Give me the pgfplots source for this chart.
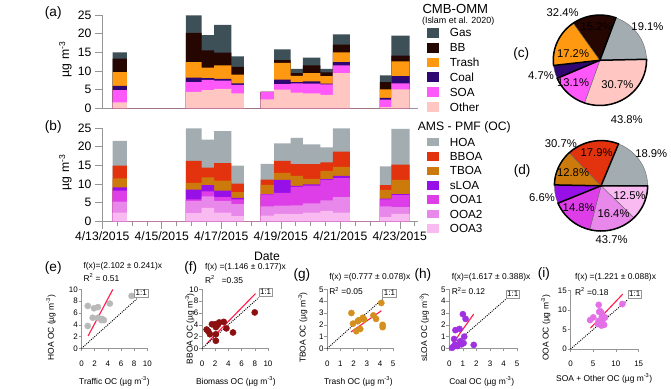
\documentclass[border=0pt]{standalone}
\usepackage{fontspec}
\setmainfont{Liberation Sans}
\usepackage{pgfplots}
\pgfplotsset{compat=1.18}
\usepackage{pgfplotstable}

\definecolor{cGas}{RGB}{61,79,87}
\definecolor{cBB}{RGB}{38,6,0}
\definecolor{cTrash}{RGB}{255,153,18}
\definecolor{cCoal}{RGB}{46,8,112}
\definecolor{cSOA}{RGB}{255,88,250}
\definecolor{cOther}{RGB}{255,198,194}
\definecolor{cHOA}{RGB}{163,172,176}
\definecolor{cBBOA}{RGB}{226,50,14}
\definecolor{cTBOA}{RGB}{204,122,12}
\definecolor{cSLOA}{RGB}{152,16,232}
\definecolor{cOOA1}{RGB}{222,62,232}
\definecolor{cOOA2}{RGB}{232,136,234}
\definecolor{cOOA3}{RGB}{248,186,240}
\definecolor{cE}{RGB}{185,185,185}
\definecolor{cF}{RGB}{140,16,16}
\definecolor{cG}{RGB}{212,144,30}
\definecolor{cH}{RGB}{160,48,224}
\definecolor{cI}{RGB}{228,112,232}
\definecolor{cFit}{RGB}{255,30,80}
\definecolor{axgray}{RGB}{150,150,150}

\newcommand{\fs}[1]{\fontsize{#1}{#1}\selectfont}

% cumulative stack tops (ug m-3); x = bar start, days after 4/13/2015 00:00
\pgfplotstableread{
x     other soa  coal trash bb   gas
0.35  1.6   4.9  6.0  9.7   13.3 15.0
0.83  0     0    0    0     0    0
2.81  4.4   7.0  8.2  12.4  20.2 24.9
3.34  4.9   7.6  8.1  10.9  15.5 19.6
3.76  5.2   7.4  7.9  11.5  14.9 22.4
4.34  4.0   6.3  6.7  9.0   11.1 13.9
4.76  0     0    0    0     0    0
5.32  2.4   4.4  4.4  4.4   4.4  4.4
5.78  5.0   6.5  7.7  12.2  12.9 15.8
6.33  4.2   6.7  7.0  8.7   9.4  10.6
6.74  4.0   6.6  7.2  9.4   11.5 13.6
7.33  3.6   6.4  6.6  8.6   9.6  10.6
7.75  9.4   11.5 12.4 15.0  17.1 19.8
8.32  0     0    0    0     0    0
9.33  0.3   2.3  2.8  5.1   7.0  8.8
9.72  5.1   6.7  8.6  12.6  14.1 19.5
10.33 0     0    0    0     0    0
}\cmbtab

\pgfplotstableread{
x     ooa3 ooa2 ooa1 sloa tboa bboa hoa
0.35  2.3  5.3  8.2  9.1  11.5 14.9 21.6
0.83  0    0    0    0    0    0    0
2.81  2.2  5.5  5.9  8.5  10.3 16.2 24.9
3.34  3.6  6.7  8.0  9.7  11.8 14.4 21.9
3.76  2.3  5.5  6.5  8.2  10.9 15.6 24.2
4.34  1.4  4.6  5.9  6.3  7.8  10.1 14.9
4.76  0    0    0    0    0    0    0
5.32  1.5  4.0  7.2  7.3  9.8  11.2 15.4
5.78  2.0  4.2  7.6  11.1 13.0 16.2 20.9
6.33  1.9  4.3  9.2  9.5  12.2 15.3 22.4
6.74  2.3  4.8  9.6  9.9  11.4 15.3 20.6
7.33  2.8  5.6  11.1 11.3 13.5 15.8 19.8
7.75  2.3  6.5  11.6 12.2 14.6 18.7 24.9
8.32  0    0    0    0    0    0    0
9.33  1.1  4.0  5.9  6.1  8.4  9.7  14.7
9.72  2.0  3.8  7.0  7.3  11.1 15.2 24.8
10.33 0    0    0    0    0    0    0
}\amstab

\pgfplotsset{
  /pgf/number format/assume math mode=true,
  ts/.style={scale only axis, axis lines=left, axis line style={-, axgray},
    tick style={axgray, line width=0.5pt}, tick align=outside,
    major tick length=8bp, minor tick length=5bp,
    xmin=0, xmax=10.6, ymin=0, ymax=25, width=335bp, height=99bp,
    ytick={0,5,...,25}, yticklabel style={font=\fs{13}}},
  pie/.style={scale only axis, hide axis, xmin=-1, xmax=1, ymin=-1, ymax=1,
    width=99bp, height=96bp, anchor=center, clip=false},
  sl/.style={draw=black!60, line width=0.4bp, samples=40, variable=\t},
  grp/.style={draw=black, line width=1.6bp, fill=none, samples=60, variable=\t},
  sc/.style={scale only axis, axis lines=left, axis line style={-, axgray},
    tick style={axgray, line width=0.5pt}, tick align=outside, major tick length=3bp,
    height=62.7bp, xticklabels={},
    yticklabel style={font=\fs{8.5}, text=black, xshift=2.5bp},
    clip=false},
  pts/.style={only marks, mark=*, mark size=3.3bp},
  fit/.style={cFit, line width=1.2bp},
  one/.style={black, line width=1bp, dash pattern=on 1bp off 1.3bp},
}

\begin{document}
% pie slice boundaries (degrees), clockwise, from the percentages
\pgfmathsetmacro{\cA}{70}
\pgfmathsetmacro{\cB}{\cA-19.1*3.6}
\pgfmathsetmacro{\cC}{\cB-30.7*3.6}
\pgfmathsetmacro{\cD}{\cC-13.1*3.6}
\pgfmathsetmacro{\cE}{\cD-4.7*3.6}
\pgfmathsetmacro{\cF}{\cE-17.2*3.6}
\pgfmathsetmacro{\cG}{\cA-360}
\pgfmathsetmacro{\dA}{68}
\pgfmathsetmacro{\dB}{\dA-18.9*3.6}
\pgfmathsetmacro{\dC}{\dB-12.5*3.6}
\pgfmathsetmacro{\dD}{\dC-16.4*3.6}
\pgfmathsetmacro{\dE}{\dD-14.8*3.6}
\pgfmathsetmacro{\dF}{\dE-6.6*3.6}
\pgfmathsetmacro{\dG}{\dF-12.8*3.6}
\pgfmathsetmacro{\dH}{\dA-360}
\begin{tikzpicture}
\useasboundingbox (0,0) rectangle (671bp,413bp);

% (a)
\begin{axis}[ts, at={(67bp,298bp)}, anchor=south west, xtick=\empty]
\addplot[const plot, fill=cGas, draw=none] table[x=x,y=gas]{\cmbtab} \closedcycle;
\addplot[const plot, fill=cBB, draw=none] table[x=x,y=bb]{\cmbtab} \closedcycle;
\addplot[const plot, fill=cTrash, draw=none] table[x=x,y=trash]{\cmbtab} \closedcycle;
\addplot[const plot, fill=cCoal, draw=none] table[x=x,y=coal]{\cmbtab} \closedcycle;
\addplot[const plot, fill=cSOA, draw=none] table[x=x,y=soa]{\cmbtab} \closedcycle;
\addplot[const plot, fill=cOther, draw=none] table[x=x,y=other]{\cmbtab} \closedcycle;
\end{axis}

% (b)
\begin{axis}[ts, at={(67bp,178bp)}, anchor=south west,
  xtick={0,2,...,10}, minor xtick={0,0.5,...,10.5},
  xticklabels={4/13/2015,4/15/2015,4/17/2015,4/19/2015,4/21/2015,4/23/2015},
  xticklabel style={font=\fs{13}}]
\addplot[const plot, fill=cHOA, draw=none] table[x=x,y=hoa]{\amstab} \closedcycle;
\addplot[const plot, fill=cBBOA, draw=none] table[x=x,y=bboa]{\amstab} \closedcycle;
\addplot[const plot, fill=cTBOA, draw=none] table[x=x,y=tboa]{\amstab} \closedcycle;
\addplot[const plot, fill=cSLOA, draw=none] table[x=x,y=sloa]{\amstab} \closedcycle;
\addplot[const plot, fill=cOOA1, draw=none] table[x=x,y=ooa1]{\amstab} \closedcycle;
\addplot[const plot, fill=cOOA2, draw=none] table[x=x,y=ooa2]{\amstab} \closedcycle;
\addplot[const plot, fill=cOOA3, draw=none] table[x=x,y=ooa3]{\amstab} \closedcycle;
\end{axis}

% (c)
\begin{axis}[pie, at={(595.5bp,349bp)}]
\addplot[sl, fill=cHOA, domain=\cB:\cA] ({cos(\t)},{sin(\t)}) -- (0,0) -- cycle;
\addplot[sl, fill=cOther, domain=\cC:\cB] ({cos(\t)},{sin(\t)}) -- (0,0) -- cycle;
\addplot[sl, fill=cSOA, domain=\cD:\cC] ({cos(\t)},{sin(\t)}) -- (0,0) -- cycle;
\addplot[sl, fill=cCoal, domain=\cE:\cD] ({cos(\t)},{sin(\t)}) -- (0,0) -- cycle;
\addplot[sl, fill=cTrash, domain=\cF:\cE] ({cos(\t)},{sin(\t)}) -- (0,0) -- cycle;
\addplot[sl, fill=cBB, domain=\cG:\cF] ({cos(\t)},{sin(\t)}) -- (0,0) -- cycle;
\addplot[grp, domain=\cG:\cE] ({cos(\t)},{sin(\t)}) -- (0,0) -- cycle;
\addplot[grp, domain=\cD:\cB] ({cos(\t)},{sin(\t)}) -- (0,0) -- cycle;
\end{axis}

% (d)
\begin{axis}[pie, at={(596.7bp,215.7bp)}]
\addplot[sl, fill=cHOA, domain=\dB:\dA] ({cos(\t)},{sin(\t)}) -- (0,0) -- cycle;
\addplot[sl, fill=cOOA3, domain=\dC:\dB] ({cos(\t)},{sin(\t)}) -- (0,0) -- cycle;
\addplot[sl, fill=cOOA2, domain=\dD:\dC] ({cos(\t)},{sin(\t)}) -- (0,0) -- cycle;
\addplot[sl, fill=cOOA1, domain=\dE:\dD] ({cos(\t)},{sin(\t)}) -- (0,0) -- cycle;
\addplot[sl, fill=cSLOA, domain=\dF:\dE] ({cos(\t)},{sin(\t)}) -- (0,0) -- cycle;
\addplot[sl, fill=cTBOA, domain=\dG:\dF] ({cos(\t)},{sin(\t)}) -- (0,0) -- cycle;
\addplot[sl, fill=cBBOA, domain=\dH:\dG] ({cos(\t)},{sin(\t)}) -- (0,0) -- cycle;
\addplot[grp, domain=\dH:\dF] ({cos(\t)},{sin(\t)}) -- (0,0) -- cycle;
\addplot[grp, domain=\dE:\dB] ({cos(\t)},{sin(\t)}) -- (0,0) -- cycle;
\end{axis}

% (e)
\begin{axis}[sc, at={(45bp,43bp)}, anchor=south west, width=70bp, xmin=0, xmax=10, ymin=0, ymax=10,
  xtick={0,2,4,6,8,10}, ytick={0,2,4,6,8,10}]
\addplot[pts, cE] coordinates {(0.95,7.2) (0.95,3.8) (1.9,6.8) (2.5,7.0) (1.7,5.2) (2.5,5.2) (3.1,5.0) (3.0,4.8) (3.4,4.8) (4.3,7.6) (7.6,8.9)};
\addplot[fit] coordinates {(1,2.102) (4.75,9.98)};
\addplot[one] coordinates {(0,0) (8.4,8.4)};
\end{axis}

% (f)
\begin{axis}[sc, at={(173bp,43bp)}, anchor=south west, width=70bp, xmin=0, xmax=10, ymin=0, ymax=10,
  xtick={0,2,4,6,8,10}, ytick={0,2,4,6,8,10}]
\addplot[pts, cF] coordinates {(0.7,3.2) (0.95,2.9) (1.2,2.4) (1.5,4.1) (2.0,4.1) (2.4,4.0) (2.6,4.4) (2.1,3.6) (2.1,2.4) (2.1,1.3) (3.3,4.5) (3.7,3.4) (4.7,2.7) (8.0,6.1)};
\addplot[fit] coordinates {(0.7,0.80) (8.1,9.28)};
\addplot[one] coordinates {(0,0) (8.6,8.6)};
\end{axis}

% (g)
\begin{axis}[sc, at={(306bp,43bp)}, anchor=south west, width=70bp, xmin=0, xmax=5, ymin=0, ymax=5,
  xtick={0,1,2,3,4,5}, ytick={0,1,2,3,4,5}]
\addplot[pts, cG] coordinates {(1.83,3.0) (1.95,2.1) (2.3,2.3) (2.5,1.65) (2.2,1.46) (2.8,2.45) (2.7,2.6) (3.5,2.8) (3.7,2.5) (4.1,3.85) (4.2,2.0) (4.2,1.8) (2.4,2.4)};
\addplot[fit] coordinates {(1.8,1.40) (4.1,3.19)};
\addplot[one] coordinates {(0,0) (4.2,4.2)};
\end{axis}

% (h)
\begin{axis}[sc, at={(435.6bp,43bp)}, anchor=south west, width=72bp, xmin=0, xmax=5, ymin=0, ymax=5,
  xtick={0,1,2,3,4,5}, ytick={0,1,2,3,4,5}]
\addplot[pts, cH] coordinates {(0.2,0.05) (0.3,0.15) (0.4,0.3) (0.45,1.55) (0.6,0.2) (0.75,1.65) (0.8,0.6) (0.9,0.35) (1.0,2.9) (1.1,1.0) (1.05,0.45) (1.2,2.5) (1.8,0.3) (0.35,0.8)};
\addplot[fit] coordinates {(0.3,0.49) (1.8,2.91)};
\addplot[one] coordinates {(0,0) (4.2,4.2)};
\end{axis}

% (i)
\begin{axis}[sc, at={(564.3bp,42.3bp)}, anchor=south west, width=72.4bp, height=62.4bp, xmin=0, xmax=15, ymin=0, ymax=15,
  xtick={0,5,10,15}, ytick={0,5,10,15}]
\addplot[pts, cI] coordinates {(4.3,7.4) (5.0,8.1) (6.2,11.3) (6.3,9.5) (6.5,9.7) (6.8,9.3) (6.2,7.2) (6.5,6.3) (6.8,6.0) (7.1,6.5) (7.3,7.8) (7.6,8.1) (6.9,8.3) (7.4,6.2) (6.0,6.4) (11.4,11.5)};
\addplot[fit] coordinates {(4.4,5.37) (11.5,14.04)};
\addplot[one] coordinates {(0,0) (12.6,12.6)};
\end{axis}

\begin{scope}[x=1bp,y=1bp]
% scatter x tick labels
\foreach \x/\l in {45/0,59/2,73/4,87/6,101/8,115/10,
                   173/0,187/2,201/4,215/6,229/8,243/10,
                   306/0,320/1,334/2,348/3,362/4,376/5,
                   435.6/0,450/1,464.4/2,478.8/3,493.2/4,507.6/5,
                   564.3/0,588.4/5,612.5/10,636.7/15}{
  \node[font=\fs{8.5}, inner sep=0] at (\x,26.3) {\l};
}
\node[font=\fs{14.5}] at (15,399.5) {(a)};
\node[font=\fs{14.5}] at (15,278) {(b)};
\node[font=\fs{14.5}] at (512,356) {(c)};
\node[font=\fs{14.5}] at (513,231) {(d)};
\node[font=\fs{14.5}] at (15,128) {(e)};
\node[font=\fs{14.5}] at (161,128) {(f)};
\node[font=\fs{14.5}] at (279,121.3) {(g)};
\node[font=\fs{14.5}] at (407.5,121) {(h)};
\node[font=\fs{14.5}] at (536,122.3) {(i)};
\node[rotate=90, font=\fs{13}] at (28,350) {µg m\textsuperscript{-3}};
\node[rotate=90, font=\fs{13}] at (28,230) {µg m\textsuperscript{-3}};
\node[font=\fs{13}] at (242,141) {Date};
\node[font=\fs{14}] at (442,403) {CMB-OMM};
\node[font=\fs{9.5}] at (445,390) {(Islam et al. 2020)};
\foreach \c/\t [count=\i] in {cGas/Gas,cBB/BB,cTrash/Trash,cCoal/Coal,cSOA/SOA,cOther/Other}{
  \pgfmathsetmacro\yy{378-(\i-1)*15.7}
  \fill[\c] (411.7,\yy-5.2) rectangle (425,\yy+5.2);
  \node[anchor=west, font=\fs{12.5}, inner sep=0] at (436,\yy) {\t};
}
\node[anchor=west, font=\fs{13}, inner sep=0] at (402,278) {AMS - PMF (OC)};
\foreach \c/\t [count=\i] in {cHOA/HOA,cBBOA/BBOA,cTBOA/TBOA,cSLOA/sLOA,cOOA1/OOA1,cOOA2/OOA2,cOOA3/OOA3}{
  \pgfmathsetmacro\yy{262-(\i-1)*15.25}
  \fill[\c] (411.7,\yy-4.5) rectangle (425,\yy+4.5);
  \node[anchor=west, font=\fs{12.5}, inner sep=0] at (436,\yy) {\t};
}
\begin{scope}[every node/.style={font=\fs{12}}]
\node at (592,385) {15.2\%};
\node at (567,356) {17.2\%};
\node at (567,325) {13.1\%};
\node at (614,323) {30.7\%};
\node at (646,385) {19.1\%};
\node at (556,400) {32.4\%};
\node at (533,333) {4.7\%};
\node at (624,286) {43.8\%};
\node at (592,251) {17.9\%};
\node at (567,230) {12.8\%};
\node at (573,193) {14.8\%};
\node at (610,186) {16.4\%};
\node at (627,205) {12.5\%};
\node at (650,250) {18.9\%};
\node at (554,260) {30.7\%};
\node at (534,203) {6.6\%};
\node at (608,159) {43.7\%};
\end{scope}
\begin{scope}[every node/.style={font=\fs{9}, anchor=west, inner sep=0}]
\node at (47,130) {f(x)=(2.102 ± 0.241)x};
\node at (47,118) {R\textsuperscript{2} = 0.51};
\node at (176,129) {f(x) =(1.146 ± 0.177)x};
\node at (176,116) {R\textsuperscript{2}\ \ \ =0.35};
\node at (308,119) {f(x) =(0.777 ± 0.078)x};
\node at (308,104) {R\textsuperscript{2} =0.05};
\node at (438,118) {f(x)=(1.617 ± 0.388)x};
\node at (438,104) {R\textsuperscript{2}= 0.12};
\node at (569,118) {f(x) =(1.221 ± 0.088)x};
\node at (569,103.5) {R\textsuperscript{2} =0.18};
\end{scope}
\begin{scope}[every node/.style={font=\fs{8.5}, draw=axgray, fill=white, inner sep=1.3bp, line width=0.6bp}]
\node at (108.5,102) {1:1};
\node at (240.5,103) {1:1};
\node at (372,102) {1:1};
\node at (503,101) {1:1};
\node at (632.5,101) {1:1};
\end{scope}
\begin{scope}[every node/.style={font=\fs{9}}]
\node[rotate=90] at (12.5,65) {HOA OC (µg m\textsuperscript{-3})};
\node at (80,8) {Traffic OC (µg m\textsuperscript{-3})};
\node[rotate=90] at (160,64) {BBOA OC (µg m\textsuperscript{-3})};
\node at (209,8) {Biomass OC (µg m\textsuperscript{-3})};
\node[rotate=90] at (280,65) {TBOA OC (µg m\textsuperscript{-3})};
\node at (339,8) {Trash OC (µg m\textsuperscript{-3})};
\node[rotate=90] at (409,65) {sLOA OC (µg m\textsuperscript{-3})};
\node at (470,8) {Coal OC (µg m\textsuperscript{-3})};
\node[rotate=90] at (538,65) {OOA OC (µg m\textsuperscript{-3})};
\node at (600,11) {SOA + Other OC (µg m\textsuperscript{-3})};
\end{scope}
\end{scope}
\end{tikzpicture}
\end{document}
